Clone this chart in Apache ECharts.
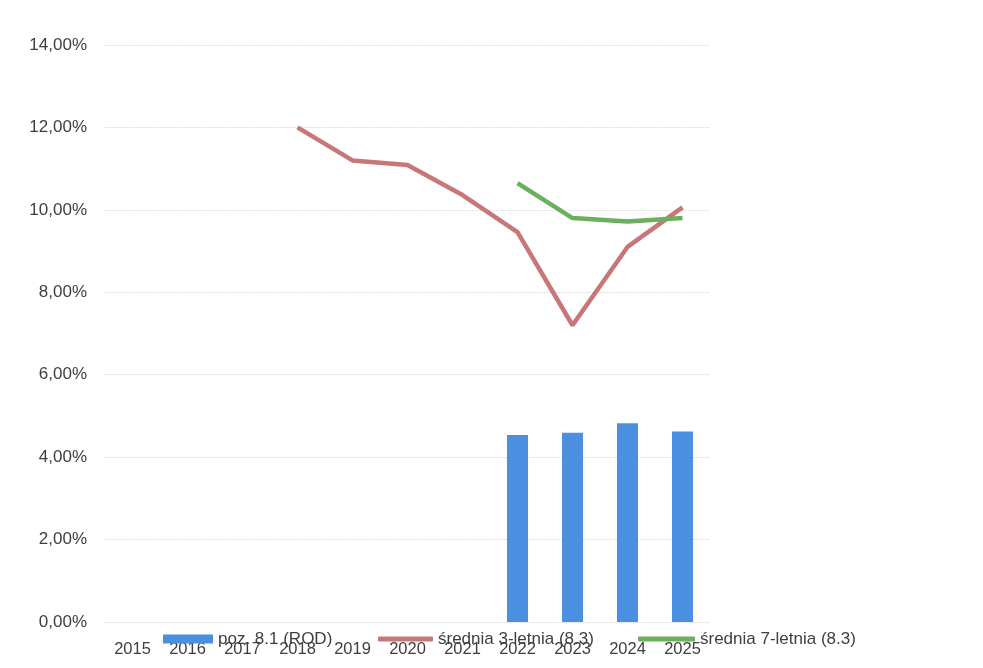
<!DOCTYPE html>
<html><head><meta charset="utf-8">
<script src="https://cdn.jsdelivr.net/npm/echarts@6/dist/echarts.min.js"></script>
<style>html,body{margin:0;padding:0;background:#fff}#c{width:983px;height:668px}</style>
</head><body><div id="c"></div>
<script>
const categories = ['2015','2016','2017','2018','2019','2020','2021','2022','2023','2024','2025'];
const rodValues = [null,null,null,null,null,null,null,4.54,4.59,4.82,4.62];
const avg3Values = [null,null,null,12.00,11.20,11.09,10.36,9.46,7.20,9.10,10.06];
const avg7Values = [null,null,null,null,null,null,null,10.65,9.80,9.72,9.80];
const yTicks = [0,2,4,6,8,10,12,14];
const seriesNames = ['poz. 8.1 (ROD)','średnia 3-letnia (8.3)','średnia 7-letnia (8.3)'];

const font = 'Liberation Sans, Arial, sans-serif';
const txt = '#3e3e3e';
const chart = echarts.init(document.getElementById('c'));
function legendAt(name, left, w, icon, h){
  return {data:[name], left:left, top:629, orient:'horizontal', itemWidth:w, itemHeight:h, itemGap:0,
    icon:icon, textStyle:{fontFamily:font, fontSize:17, color:txt, lineHeight:20}, selectedMode:false, z:10, padding:0};
}
chart.setOption({
  animation:false,
  grid:{left:105, right:273, top:45, bottom:46, containLabel:false},
  legend:[
    legendAt(seriesNames[0], 163, 50, 'rect', 9),
    legendAt(seriesNames[1], 378, 55, 'roundRect', 5),
    legendAt(seriesNames[2], 638, 57, 'roundRect', 5)
  ],
  xAxis:{type:'category', data:categories, boundaryGap:true,
    axisLine:{show:false}, axisTick:{show:false}, splitLine:{show:false},
    axisLabel:{fontFamily:font, fontSize:16.5, color:txt, margin:19, interval:0}},
  yAxis:{type:'value', min:yTicks[0], max:yTicks[yTicks.length-1], interval:2,
    axisLine:{show:false}, axisTick:{show:false},
    splitLine:{lineStyle:{type:'dotted', color:'#d4d4d4', width:1.2}},
    axisLabel:{fontFamily:font, fontSize:17, color:txt, margin:18,
      formatter:v=>v.toFixed(2).replace('.',',')+'%'}},
  series:[
    {name:seriesNames[0], type:'bar', data:rodValues, barWidth:21, itemStyle:{color:'#4a8fe0'}},
    {name:seriesNames[1], type:'line', data:avg3Values, symbol:'none', connectNulls:false,
      lineStyle:{color:'#c77777', width:4.5}, itemStyle:{color:'#c77777'}},
    {name:seriesNames[2], type:'line', data:avg7Values, symbol:'none', connectNulls:false,
      lineStyle:{color:'#6caf5c', width:4.5}, itemStyle:{color:'#6caf5c'}}
  ]
});
</script></body></html>
